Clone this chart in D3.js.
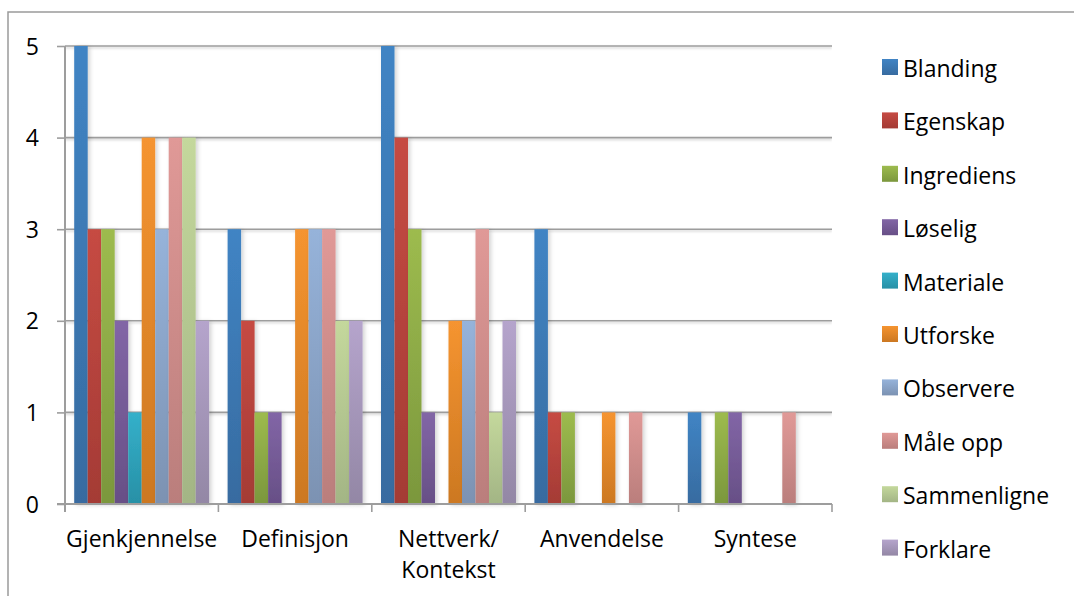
<!DOCTYPE html>
<html>
<head>
<meta charset="utf-8">
<script src="https://cdn.jsdelivr.net/npm/d3@7"></script>
<style>
  html, body { margin: 0; padding: 0; background: #fff; }
  svg { display: block; font-family: "Open Sans", "DejaVu Sans", sans-serif; }
</style>
</head>
<body>
<svg id="chart" width="1074" height="596"></svg>
<script>
// Categories (x groups) and series
const categories = ["Gjenkjennelse", "Definisjon", "Nettverk/\nKontekst", "Anvendelse", "Syntese"];
const seriesNames = ["Blanding", "Egenskap", "Ingrediens", "Løselig", "Materiale",
                     "Utforske", "Observere", "Måle opp", "Sammenligne", "Forklare"];

// One array per series, values in category order
const blanding    = [5, 3, 5, 3, 1];
const egenskap    = [3, 2, 4, 1, 0];
const ingrediens  = [3, 1, 3, 1, 1];
const loselig     = [2, 1, 1, 0, 1];
const materiale   = [1, 0, 0, 0, 0];
const utforske    = [4, 3, 2, 1, 0];
const observere   = [3, 3, 2, 0, 0];
const maleOpp     = [4, 3, 3, 1, 1];
const sammenligne = [4, 2, 1, 0, 0];
const forklare    = [2, 2, 2, 0, 0];

const yTicks = [0, 1, 2, 3, 4, 5];

const seriesValues = [blanding, egenskap, ingrediens, loselig, materiale,
                      utforske, observere, maleOpp, sammenligne, forklare];

// top / bottom colours of each series' vertical gradient
const topColors = ["#4084c4", "#c64b43", "#9dbb4e", "#8266a6", "#34b0ca",
                   "#f59430", "#96b3da", "#e09997", "#c4d89c", "#b5a4cc"];
const bottomColors = ["#376ba0", "#a43b35", "#7b973d", "#674f86", "#2890a6",
                      "#cc7822", "#7c92b2", "#ba7e7c", "#a3b585", "#9387a5"];

const FONT_SIZE = 23;

const svg = d3.select("#chart");
const defs = svg.append("defs");

topColors.forEach((c, i) => {
  const g = defs.append("linearGradient")
    .attr("id", "grad" + i)
    .attr("x1", 0).attr("y1", 0).attr("x2", 0).attr("y2", 1);
  g.append("stop").attr("offset", "0%").attr("stop-color", c);
  g.append("stop").attr("offset", "100%").attr("stop-color", bottomColors[i]);
});

const shadow = defs.append("filter").attr("id", "barShadow")
  .attr("x", "-40%").attr("y", "-5%").attr("width", "200%").attr("height", "115%");
shadow.append("feDropShadow")
  .attr("dx", 2).attr("dy", 1).attr("stdDeviation", 2)
  .attr("flood-color", "#000").attr("flood-opacity", 0.18);

const lineShadow = defs.append("filter").attr("id", "lineShadow")
  .attr("x", "0%").attr("y", "-200%").attr("width", "100%").attr("height", "500%");
lineShadow.append("feDropShadow")
  .attr("dx", 0).attr("dy", 1.5).attr("stdDeviation", 0.8)
  .attr("flood-color", "#000").attr("flood-opacity", 0.2);

// Outer chart frame
svg.append("rect")
  .attr("x", 8).attr("y", 12)
  .attr("width", 1200).attr("height", 700)
  .attr("fill", "none").attr("stroke", "#9a9a9a").attr("stroke-width", 1.5);

const plot = { left: 65, right: 832, top: 46, bottom: 504 };

const x0 = d3.scaleBand()
  .domain(categories)
  .range([plot.left, plot.right])
  .paddingInner(0).paddingOuter(0);

const groupPad = x0.bandwidth() * 0.06;
const x1 = d3.scaleBand()
  .domain(d3.range(seriesNames.length))
  .range([groupPad, x0.bandwidth() - groupPad])
  .padding(0);

const y = d3.scaleLinear()
  .domain([0, 5])
  .range([plot.bottom, plot.top]);

// Horizontal gridlines
const grid = svg.append("g").attr("filter", "url(#lineShadow)");
grid.selectAll("line")
  .data(yTicks.filter(t => t > 0))
  .join("line")
  .attr("x1", plot.left).attr("x2", plot.right)
  .attr("y1", d => y(d)).attr("y2", d => y(d))
  .attr("stroke", "#9d9d9d").attr("stroke-width", 1.6);

// Bars
const groups = svg.append("g").selectAll("g")
  .data(categories)
  .join("g")
  .attr("transform", d => `translate(${x0(d)},0)`);

groups.selectAll("rect")
  .data((d, ci) => seriesValues.map((vals, si) => ({ si, v: vals[ci] })).filter(o => o.v > 0))
  .join("rect")
  .attr("x", d => x1(d.si))
  .attr("width", x1.bandwidth())
  .attr("y", d => y(d.v))
  .attr("height", d => y(0) - y(d.v))
  .attr("fill", d => `url(#grad${d.si})`)
  .attr("filter", "url(#barShadow)");

// Y axis
const yAxis = d3.axisLeft(y).tickValues(yTicks).tickSize(8).tickPadding(18).tickFormat(d3.format("d"));
const yg = svg.append("g").attr("transform", `translate(${plot.left},0)`).call(yAxis);
yg.select(".domain").attr("stroke", "#9d9d9d").attr("stroke-width", 2)
  .attr("d", `M0,${plot.top}V${plot.bottom + 8}`);
yg.selectAll(".tick line").attr("stroke", "#9d9d9d").attr("stroke-width", 1.6);
yg.selectAll(".tick text")
  .attr("font-size", FONT_SIZE).attr("fill", "#000").attr("font-family", "Open Sans").attr("dy", "0.35em");

// X axis: ticks at category boundaries
const xg = svg.append("g").attr("transform", `translate(0,${plot.bottom})`);
xg.append("line")
  .attr("x1", plot.left - 8).attr("x2", plot.right)
  .attr("stroke", "#9d9d9d").attr("stroke-width", 2);
const boundaries = categories.map(c => x0(c)).concat([x0(categories[categories.length - 1]) + x0.bandwidth()]);
xg.selectAll("line.bt")
  .data(boundaries)
  .join("line").attr("class", "bt")
  .attr("x1", d => d).attr("x2", d => d)
  .attr("y1", 0).attr("y2", 8)
  .attr("stroke", "#9d9d9d").attr("stroke-width", 1.6);

const labels = xg.selectAll("text.cat")
  .data(categories)
  .join("text").attr("class", "cat")
  .attr("text-anchor", "middle")
  .attr("font-size", FONT_SIZE).attr("fill", "#000")
  .attr("transform", d => `translate(${x0(d) + x0.bandwidth() / 2},43)`);
labels.each(function(d) {
  const t = d3.select(this);
  d.split("\n").forEach((line, i) => {
    t.append("tspan").attr("x", 0).attr("y", i * 31).text(line);
  });
});

// Legend
const legend = svg.append("g").attr("transform", "translate(882,59)");
const items = legend.selectAll("g")
  .data(seriesNames)
  .join("g")
  .attr("transform", (d, i) => `translate(0,${i * 53.4})`);
items.append("rect")
  .attr("width", 16).attr("height", 16)
  .attr("fill", (d, i) => `url(#grad${i})`);
items.append("text")
  .attr("x", 21).attr("y", 18)
  .attr("font-size", FONT_SIZE).attr("fill", "#000")
  .text(d => d);
</script>
</body>
</html>
